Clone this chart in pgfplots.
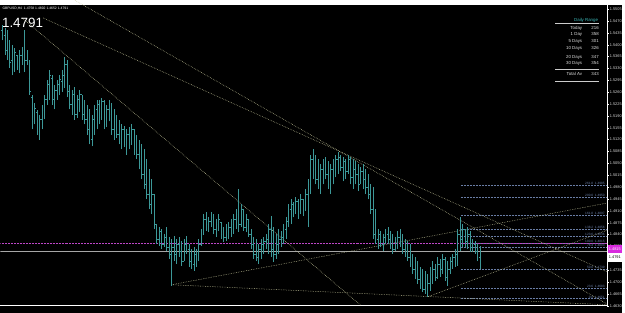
\documentclass[border=0pt]{standalone}
\usepackage{pgfplots}
\pgfplotsset{compat=1.18}
\usepackage{pgfplotstable}
\usepackage{fontspec}
\setmainfont{Liberation Sans}
\definecolor{barc}{RGB}{60,152,152}
\definecolor{trend}{RGB}{205,205,160}
\definecolor{fibc}{RGB}{105,125,165}
\definecolor{magl}{RGB}{190,70,200}
\definecolor{teallab}{RGB}{60,185,185}
\pgfdeclareplotmark{otick}{\pgfpathmoveto{\pgfpoint{-1.1pt}{0pt}}\pgfpathlineto{\pgfpoint{0pt}{0pt}}\pgfusepathqstroke}
\pgfdeclareplotmark{ctick}{\pgfpathmoveto{\pgfpoint{0pt}{0pt}}\pgfpathlineto{\pgfpoint{1.1pt}{0pt}}\pgfusepathqstroke}
\pgfplotstableread{
i o h l c
0 1.5443 1.5458 1.5413 1.5428
1 1.5428 1.5449 1.5370 1.5385
2 1.5385 1.5443 1.5355 1.5413
3 1.5409 1.5415 1.5331 1.5349
4 1.5355 1.5400 1.5310 1.5325
5 1.5325 1.5391 1.5319 1.5379
6 1.5370 1.5370 1.5325 1.5337
7 1.5337 1.5385 1.5316 1.5370
8 1.5370 1.5394 1.5340 1.5385
9 1.5385 1.5443 1.5319 1.5355
10 1.5355 1.5385 1.5340 1.5349
11 1.5301 1.5355 1.5253 1.5262
12 1.5244 1.5253 1.5150 1.5165
13 1.5174 1.5229 1.5165 1.5214
14 1.5202 1.5208 1.5135 1.5144
15 1.5144 1.5193 1.5120 1.5180
16 1.5180 1.5223 1.5150 1.5208
17 1.5208 1.5253 1.5180 1.5238
18 1.5238 1.5297 1.5223 1.5282
19 1.5282 1.5326 1.5238 1.5311
20 1.5302 1.5311 1.5223 1.5238
21 1.5238 1.5282 1.5209 1.5267
22 1.5267 1.5297 1.5238 1.5282
23 1.5282 1.5311 1.5253 1.5297
24 1.5291 1.5326 1.5262 1.5311
25 1.5311 1.5364 1.5273 1.5341
26 1.5341 1.5355 1.5247 1.5262
27 1.5262 1.5282 1.5209 1.5223
28 1.5223 1.5267 1.5194 1.5253
29 1.5253 1.5276 1.5179 1.5194
30 1.5194 1.5253 1.5185 1.5238
31 1.5238 1.5267 1.5203 1.5253
32 1.5253 1.5253 1.5179 1.5194
33 1.5194 1.5238 1.5165 1.5179
34 1.5179 1.5223 1.5135 1.5150
35 1.5150 1.5209 1.5106 1.5120
36 1.5120 1.5194 1.5100 1.5179
37 1.5179 1.5223 1.5135 1.5209
38 1.5209 1.5238 1.5150 1.5223
39 1.5223 1.5238 1.5165 1.5185
40 1.5185 1.5244 1.5179 1.5232
41 1.5232 1.5238 1.5150 1.5165
42 1.5165 1.5223 1.5156 1.5209
43 1.5209 1.5238 1.5174 1.5194
44 1.5194 1.5229 1.5135 1.5150
45 1.5150 1.5209 1.5120 1.5179
46 1.5179 1.5194 1.5126 1.5135
47 1.5135 1.5179 1.5106 1.5120
48 1.5120 1.5165 1.5091 1.5150
49 1.5150 1.5159 1.5097 1.5106
50 1.5106 1.5150 1.5076 1.5135
51 1.5135 1.5156 1.5091 1.5106
52 1.5106 1.5165 1.5106 1.5150
53 1.5150 1.5150 1.5076 1.5091
54 1.5091 1.5135 1.5062 1.5076
55 1.5076 1.5120 1.5032 1.5047
56 1.5047 1.5106 1.5003 1.5018
57 1.5018 1.5091 1.4974 1.4988
58 1.4988 1.5062 1.4944 1.4959
59 1.4959 1.5032 1.4915 1.4930
60 1.4930 1.5003 1.4900 1.4959
61 1.4959 1.4959 1.4856 1.4871
62 1.4871 1.4871 1.4812 1.4827
63 1.4827 1.4862 1.4806 1.4850
64 1.4850 1.4856 1.4797 1.4812
65 1.4812 1.4842 1.4803 1.4833
66 1.4833 1.4862 1.4792 1.4803
67 1.4803 1.4833 1.4768 1.4783
68 1.4783 1.4827 1.4689 1.4803
69 1.4803 1.4836 1.4762 1.4783
70 1.4783 1.4827 1.4753 1.4812
71 1.4812 1.4833 1.4774 1.4792
72 1.4792 1.4821 1.4748 1.4762
73 1.4762 1.4827 1.4762 1.4812
74 1.4812 1.4836 1.4783 1.4797
75 1.4797 1.4812 1.4745 1.4762
76 1.4762 1.4797 1.4739 1.4753
77 1.4753 1.4803 1.4733 1.4783
78 1.4783 1.4797 1.4745 1.4768
79 1.4768 1.4827 1.4762 1.4812
80 1.4812 1.4856 1.4806 1.4842
81 1.4842 1.4900 1.4842 1.4886
82 1.4886 1.4906 1.4850 1.4871
83 1.4871 1.4891 1.4847 1.4880
84 1.4880 1.4906 1.4862 1.4891
85 1.4891 1.4900 1.4842 1.4856
86 1.4856 1.4886 1.4833 1.4871
87 1.4871 1.4900 1.4850 1.4886
88 1.4877 1.4877 1.4827 1.4842
89 1.4842 1.4862 1.4818 1.4833
90 1.4833 1.4871 1.4821 1.4856
91 1.4856 1.4877 1.4827 1.4862
92 1.4862 1.4886 1.4833 1.4871
93 1.4871 1.4900 1.4842 1.4886
94 1.4886 1.4915 1.4856 1.4900
95 1.4900 1.4974 1.4847 1.4871
96 1.4871 1.4930 1.4862 1.4915
97 1.4915 1.4915 1.4850 1.4862
98 1.4862 1.4900 1.4847 1.4886
99 1.4886 1.4886 1.4833 1.4842
100 1.4842 1.4856 1.4797 1.4812
101 1.4812 1.4833 1.4768 1.4783
102 1.4783 1.4827 1.4762 1.4774
103 1.4774 1.4812 1.4753 1.4797
104 1.4797 1.4827 1.4768 1.4812
105 1.4812 1.4833 1.4783 1.4821
106 1.4821 1.4842 1.4797 1.4827
107 1.4827 1.4871 1.4783 1.4856
108 1.4856 1.4894 1.4774 1.4797
109 1.4797 1.4862 1.4759 1.4783
110 1.4783 1.4842 1.4768 1.4812
111 1.4812 1.4856 1.4783 1.4827
112 1.4827 1.4850 1.4803 1.4833
113 1.4833 1.4871 1.4812 1.4856
114 1.4856 1.4891 1.4827 1.4880
115 1.4880 1.4930 1.4862 1.4915
116 1.4915 1.4944 1.4871 1.4930
117 1.4930 1.4935 1.4891 1.4915
118 1.4915 1.4950 1.4900 1.4938
119 1.4938 1.4944 1.4886 1.4909
120 1.4909 1.4959 1.4900 1.4944
121 1.4944 1.4944 1.4894 1.4915
122 1.4915 1.4974 1.4909 1.4959
123 1.4959 1.5003 1.4862 1.4988
124 1.4988 1.5076 1.4959 1.5062
125 1.5062 1.5091 1.5003 1.5032
126 1.5032 1.5076 1.4988 1.5003
127 1.5003 1.5062 1.4974 1.4988
128 1.4988 1.5047 1.4959 1.5032
129 1.5032 1.5062 1.4988 1.5047
130 1.5047 1.5068 1.5003 1.5018
131 1.5018 1.5056 1.4974 1.4988
132 1.4988 1.5047 1.4959 1.5032
133 1.5032 1.5062 1.4988 1.5047
134 1.5047 1.5076 1.5009 1.5062
135 1.5062 1.5085 1.5018 1.5068
136 1.5068 1.5076 1.5027 1.5038
137 1.5038 1.5068 1.4997 1.5056
138 1.5056 1.5062 1.5003 1.5027
139 1.5027 1.5076 1.5018 1.5062
140 1.5062 1.5068 1.4988 1.5009
141 1.5009 1.5062 1.4974 1.5032
142 1.5032 1.5056 1.4988 1.5018
143 1.5018 1.5047 1.4968 1.4988
144 1.4988 1.5038 1.4988 1.5027
145 1.5027 1.5047 1.4974 1.5003
146 1.5003 1.5032 1.4959 1.4980
147 1.4980 1.5018 1.4944 1.4959
148 1.4959 1.4988 1.4900 1.4915
149 1.4915 1.4980 1.4827 1.4842
150 1.4842 1.4915 1.4812 1.4827
151 1.4827 1.4856 1.4797 1.4842
152 1.4842 1.4850 1.4803 1.4812
153 1.4812 1.4842 1.4792 1.4833
154 1.4833 1.4856 1.4812 1.4842
155 1.4842 1.4862 1.4812 1.4827
156 1.4827 1.4850 1.4797 1.4812
157 1.4812 1.4842 1.4783 1.4797
158 1.4797 1.4833 1.4792 1.4827
159 1.4827 1.4850 1.4797 1.4833
160 1.4833 1.4856 1.4803 1.4812
161 1.4812 1.4842 1.4783 1.4797
162 1.4797 1.4827 1.4774 1.4783
163 1.4783 1.4821 1.4762 1.4774
164 1.4774 1.4812 1.4745 1.4753
165 1.4753 1.4783 1.4724 1.4739
166 1.4739 1.4774 1.4709 1.4724
167 1.4724 1.4762 1.4695 1.4709
168 1.4709 1.4745 1.4680 1.4695
169 1.4695 1.4739 1.4671 1.4680
170 1.4680 1.4733 1.4665 1.4709
171 1.4709 1.4724 1.4657 1.4695
172 1.4695 1.4745 1.4674 1.4724
173 1.4724 1.4762 1.4695 1.4739
174 1.4739 1.4753 1.4704 1.4715
175 1.4715 1.4774 1.4709 1.4753
176 1.4753 1.4768 1.4715 1.4739
177 1.4739 1.4783 1.4724 1.4768
178 1.4768 1.4774 1.4704 1.4715
179 1.4715 1.4762 1.4689 1.4739
180 1.4739 1.4774 1.4724 1.4762
181 1.4762 1.4783 1.4739 1.4774
182 1.4774 1.4797 1.4745 1.4783
183 1.4783 1.4856 1.4748 1.4842
184 1.4842 1.4891 1.4792 1.4827
185 1.4827 1.4871 1.4803 1.4856
186 1.4856 1.4856 1.4803 1.4821
187 1.4821 1.4862 1.4797 1.4842
188 1.4842 1.4850 1.4789 1.4803
189 1.4803 1.4827 1.4789 1.4812
190 1.4812 1.4821 1.4783 1.4792
191 1.4792 1.4812 1.4762 1.4774
192 1.4774 1.4806 1.4738 1.4791
}\bars
\begin{document}
\begin{tikzpicture}[x=1pt,y=1pt]
\fill[black] (0,0) rectangle (625,309);
\begin{axis}[at={(0,2)}, anchor=south west, scale only axis,
  width=610pt, height=307pt,
  xmin=-0.8, xmax=243.2, ymin=1.4630, ymax=1.5531,
  axis x line*=bottom, axis y line*=right,
  x axis line style={-}, y axis line style={-},
  axis line style={white, line width=0.7pt},
  xtick=\empty,
  ytick={1.4630,1.4665,1.4700,1.4735,1.4770,1.4805,1.4840,1.4875,1.4910,1.4945,1.4980,1.5015,1.5050,1.5085,1.5120,1.5155,1.5190,1.5225,1.5260,1.5295,1.5330,1.5365,1.5400,1.5435,1.5470,1.5505},
  scaled y ticks=false,
  yticklabel style={white!85!black, font=\fontsize{3.9}{4}\selectfont, /pgf/number format/.cd, fixed, fixed zerofill, precision=4, assume math mode=true},
  ytick style={white, line width=0.4pt},
  tick align=outside, major tick length=1.6pt,
  yticklabel shift=-2.5pt,
  clip=true]
% fib levels
\foreach \lv in {1.4985,1.4950,1.4897,1.4856,1.4836,1.4815,1.4803,1.4739,1.4683,1.4651}{
  \edef\tmp{\noexpand\addplot[fibc, dash pattern=on 0.6pt off 0.9pt, line width=0.45pt, forget plot] coordinates {(184.4,\lv) (243.2,\lv)};}\tmp
}
% magenta and bid lines
\addplot[magl, dash pattern=on 0.6pt off 0.9pt, line width=0.5pt] coordinates {(-0.8,1.4815) (243.2,1.4815)};
\addplot[white!65!black, line width=0.45pt] coordinates {(-0.8,1.4791) (243.2,1.4791)};
% trend lines
\addplot[trend, dash pattern=on 0.6pt off 1.1pt, line width=0.5pt] coordinates {(8,1.5479) (144.3,1.4630)};
\addplot[trend, dash pattern=on 0.6pt off 1.1pt, line width=0.5pt] coordinates {(16.4,1.5479) (243.2,1.4730)};
\addplot[trend, dash pattern=on 0.6pt off 1.1pt, line width=0.5pt] coordinates {(29.2,1.5531) (243.2,1.4635)};
\addplot[trend, dash pattern=on 0.6pt off 1.1pt, line width=0.5pt] coordinates {(68,1.4692) (243.2,1.4933)};
\addplot[trend, dash pattern=on 0.6pt off 1.1pt, line width=0.5pt] coordinates {(68,1.4692) (243.2,1.4633)};
\addplot[trend, dash pattern=on 0.6pt off 1.1pt, line width=0.5pt] coordinates {(171.2,1.4657) (243.2,1.4853)};
% OHLC bars
\addplot[draw=none, mark=none, error bars/.cd, y dir=plus, y explicit, error mark=none,
  error bar style={barc, line width=0.65pt}]
  table[x=i, y=l, y error expr=\thisrow{h}-\thisrow{l}] {\bars};
\addplot[only marks, mark=otick, barc, line width=0.55pt] table[x=i, y=o] {\bars};
\addplot[only marks, mark=ctick, barc, line width=0.55pt] table[x=i, y=c] {\bars};
% fib labels
\foreach \lv/\nm in {1.4985/261.8,1.4950/200.0,1.4897/161.8,1.4856/138.2,1.4836/123.6,1.4815/100.0,1.4803/76.4,1.4739/50.0,1.4683/23.6,1.4651/0.0}{
  \edef\tmp{\noexpand\node[fibc, anchor=south east, inner sep=0.3pt, font=\noexpand\fontsize{3.2}{3.5}\noexpand\selectfont] at (axis cs:242.4,\lv) {\nm\ \ \lv};}\tmp
}
\end{axis}
% price labels
\fill[magl!60!magenta] (610.3,59.5) rectangle (625,68);
\node[white, font=\fontsize{3.9}{4}\selectfont, anchor=west, inner sep=0pt] at (611.5,63.7) {1.4815};
\fill[white] (610.3,51) rectangle (625,59.5);
\node[black, font=\fontsize{3.9}{4}\selectfont, anchor=west, inner sep=0pt] at (611.5,55.2) {1.4791};
% header texts
\node[white, font=\fontsize{3.4}{4}\selectfont, anchor=north west, inner sep=0pt] at (2,307.5) {GBPUSD,H4 \ 1.4758 1.4802 1.4652 1.4791};
\node[white, font=\fontsize{13.5}{14}\selectfont, anchor=base west, inner sep=0pt] at (1.5,287) {1.4791};
% daily range table
\begin{scope}[font=\fontsize{4.4}{5}\selectfont]
\node[teallab, anchor=base east, inner sep=0pt] at (601,293) {Daily Range};
\draw[white!80!black, line width=0.4pt] (558,290.5) -- (602,290.5);
\foreach \yy/\lab/\val in {284.5/Today/216, 278/1 Day/358, 271.3/5 Days/301, 264/10 Days/326, 255.7/20 Days/347, 249/30 Days/354}{
  \node[white!88!black, anchor=base east, inner sep=0pt] at (585,\yy) {\lab};
  \node[white!88!black, anchor=base west, inner sep=0pt] at (594,\yy) {\val};
}
\draw[white!80!black, line width=0.4pt] (558,244.5) -- (602,244.5);
\node[white!88!black, anchor=base east, inner sep=0pt] at (585,238) {Total Av};
\node[white!88!black, anchor=base west, inner sep=0pt] at (594,238) {343};
\draw[white!80!black, line width=0.4pt] (558,233) -- (602,233);
\end{scope}
\end{tikzpicture}
\end{document}
